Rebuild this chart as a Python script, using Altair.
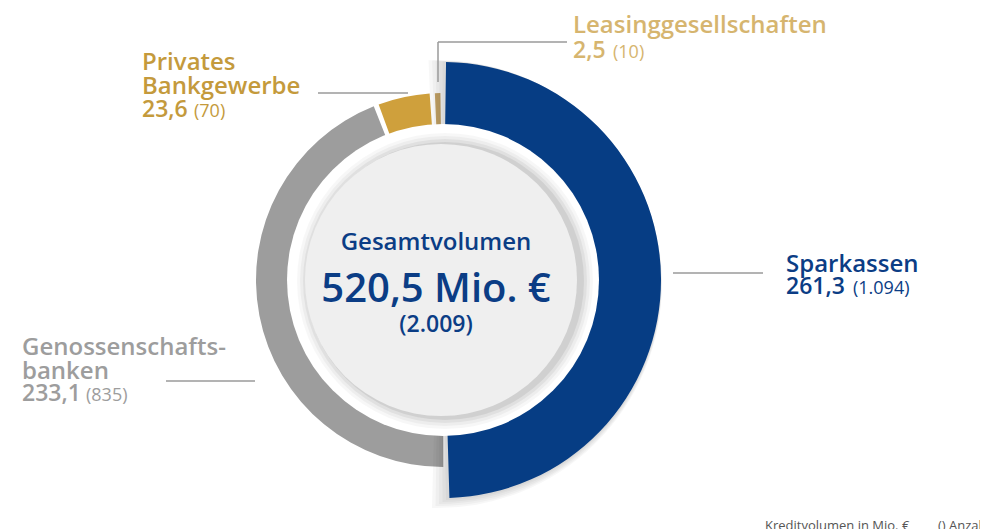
import altair as alt
import pandas as pd

# ---------------- data ----------------
categories = ["Sparkassen", "Genossenschafts-\nbanken", "Privates\nBankgewerbe", "Leasinggesellschaften"]
volumes = [261.3, 233.1, 23.6, 2.5]          # Kreditvolumen in Mio. €
counts = [1094, 835, 70, 10]                 # Anzahl
center_title = "Gesamtvolumen"
unit_label = "Mio. €"
footnote_volume = "Kreditvolumen in Mio. €"
footnote_count = "() Anzahl"

# ---------------- styles / layout ----------------
seg_colors = ["#063d84", "#9d9d9d", "#cfa03c", "#c6a569"]
text_colors = ["#0b3d85", "#9d9d9d", "#c49a3c", "#d6b56f"]
FONT = "Open Sans"
W, H = 972, 525
CX, CY = 435, 272
R_IN, R_SMALL, R_BIG = 150, 187, 218
GAP = 1.6 / 360.0
LINE_COLOR = "#9a9a9a"

# label layout (plot coordinates): x, first-name baseline, value baseline, count x
label_layout = [
    (778, 264, 286, 845),
    (14, 347, 393, 78),
    (134, 62, 109, 186),
    (565, 25, 50, 605),
]
leader_lines = [
    (665, 755, 265, 265),
    (158, 247, 373, 373),
    (310, 400, 85, 85),
    (430, 430, 34, 74),
    (430, 559, 34, 34),
]

df = pd.DataFrame({"idx": list(range(len(categories))), "name": categories,
                   "value": volumes, "count": counts})
dummy = pd.DataFrame({"d": [0]})

theta_scale = alt.Scale(domain=[0, 1], range=[0, 6.283185307])

base = (
    alt.Chart(df)
    .transform_joinaggregate(total="sum(value)")
    .transform_window(cum="sum(value)", sort=[alt.SortField("idx")])
    .transform_calculate(
        start=f"(datum.cum - datum.value) / datum.total * (1 - 4 * {GAP}) + datum.idx * {GAP} + {GAP} / 2",
    )
    .transform_calculate(
        end=f"datum.start + datum.value / datum.total * (1 - 4 * {GAP})"
    )
)

small_ring = base.transform_filter("datum.idx != 0").mark_arc(
    innerRadius=R_IN, outerRadius=R_SMALL
).encode(
    theta=alt.Theta("start:Q", scale=theta_scale, stack=False),
    theta2="end:Q",
    color=alt.Color("idx:N", scale=alt.Scale(domain=[0, 1, 2, 3], range=seg_colors), legend=None),
    x=alt.value(CX), y=alt.value(CY),
)

shadows = []
for k in range(1, 6):
    shadows.append(
        base.transform_filter("datum.idx == 0")
        .transform_calculate(s0=f"datum.start - {0.0018 * k}", s1=f"datum.end + {0.0018 * k}")
        .mark_arc(innerRadius=R_IN, outerRadius=R_BIG + 1.2 * k, color="#000000", opacity=0.03)
        .encode(
            theta=alt.Theta("s0:Q", scale=theta_scale, stack=False),
            theta2="s1:Q",
            x=alt.value(CX - 1.0 * k), y=alt.value(CY + 0.8 * k),
        )
    )

big_arc = base.transform_filter("datum.idx == 0").mark_arc(
    innerRadius=R_IN, outerRadius=R_BIG, color=seg_colors[0]
).encode(
    theta=alt.Theta("start:Q", scale=theta_scale, stack=False),
    theta2="end:Q",
    x=alt.value(CX), y=alt.value(CY),
)

white_disc = alt.Chart(dummy).mark_arc(
    theta=0, theta2=6.2832, innerRadius=0, outerRadius=156, color="#ffffff"
).encode(x=alt.value(CX), y=alt.value(CY))

disc_shadows = []
for j, (r, op) in enumerate([(148, 0.03), (145, 0.04), (142, 0.05), (139, 0.07)]):
    disc_shadows.append(
        alt.Chart(dummy).mark_arc(
            theta=0, theta2=6.2832, innerRadius=0, outerRadius=r, color="#000000", opacity=op
        ).encode(x=alt.value(CX + 2), y=alt.value(CY + 1))
    )

light_disc = alt.Chart(dummy).mark_arc(
    theta=0, theta2=6.2832, innerRadius=0, outerRadius=136, color="#efefef"
).encode(x=alt.value(CX - 2), y=alt.value(CY))

# leader lines
lines = []
for (x1, x2, y1, y2) in leader_lines:
    lines.append(
        alt.Chart(dummy).mark_rule(color=LINE_COLOR, strokeWidth=1.5).encode(
            x=alt.value(x1), x2=alt.value(x2), y=alt.value(y1), y2=alt.value(y2)
        )
    )

# labels
labels = []
for i, (lx, ny, vy, cx) in enumerate(label_layout):
    sel = base.transform_filter(f"datum.idx == {i}")
    labels.append(
        sel.mark_text(align="left", baseline="alphabetic", x=lx, y=ny, font=FONT,
                      fontSize=24, fontWeight=600, color=text_colors[i],
                      lineBreak="\n", lineHeight=23.5)
        .encode(text="name:N")
    )
    labels.append(
        sel.transform_calculate(vlabel="replace(format(datum.value, '.1f'), '.', ',')")
        .mark_text(align="left", baseline="alphabetic", x=lx, y=vy, font=FONT,
                   fontSize=23, fontWeight=600, color=text_colors[i])
        .encode(text="vlabel:N")
    )
    labels.append(
        sel.transform_calculate(clabel="'(' + replace(format(datum.count, ','), ',', '.') + ')'")
        .mark_text(align="left", baseline="alphabetic", x=cx, y=vy, font=FONT,
                   fontSize=18, fontWeight=400, color=text_colors[i])
        .encode(text="clabel:N")
    )

center_base = alt.Chart(df).transform_aggregate(total="sum(value)", n="sum(count)")
center_texts = [
    center_base.transform_calculate(t=f"'{center_title}'")
    .mark_text(align="center", baseline="alphabetic", x=428, y=242, font=FONT,
               fontSize=24, fontWeight=600, color=text_colors[0])
    .encode(text="t:N"),
    center_base.transform_calculate(t=f"replace(format(datum.total, '.1f'), '.', ',') + ' {unit_label}'")
    .mark_text(align="center", baseline="alphabetic", x=428, y=294, font=FONT,
               fontSize=40, fontWeight=600, color=text_colors[0])
    .encode(text="t:N"),
    center_base.transform_calculate(t="'(' + replace(format(datum.n, ','), ',', '.') + ')'")
    .mark_text(align="center", baseline="alphabetic", x=428, y=324, font=FONT,
               fontSize=23, fontWeight=600, color=text_colors[0])
    .encode(text="t:N"),
]

foot = [
    alt.Chart(dummy).mark_text(align="left", baseline="alphabetic", x=757, y=522, font=FONT,
                               fontSize=13, color="#555555").encode(text=alt.value(footnote_volume)),
    alt.Chart(dummy).mark_text(align="left", baseline="alphabetic", x=930, y=522, font=FONT,
                               fontSize=13, color="#555555").encode(text=alt.value(footnote_count)),
]

chart = alt.layer(
    small_ring, *shadows, big_arc, white_disc, *disc_shadows, light_disc,
    *lines, *labels, *center_texts, *foot
).properties(
    width=W, height=H, autosize=alt.AutoSizeParams(type="none"), padding=0
).configure_view(stroke=None)

chart.save("out.html", embed_options={"renderer": "svg", "actions": False})
